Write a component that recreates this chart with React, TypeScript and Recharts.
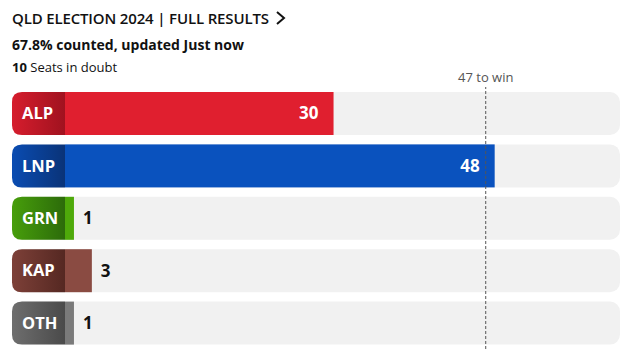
import React from 'react';
import { BarChart, Bar, XAxis, YAxis, ReferenceLine, LabelList } from 'recharts';

const parties = ['ALP', 'LNP', 'GRN', 'KAP', 'OTH'];
const seats = [30, 48, 1, 3, 1];
const winLine = 47;
const maxSeats = 62;

const COLORS: Record<string, { bar: string; tagFrom: string; tagTo: string }> = {
  ALP: { bar: '#e01f2f', tagFrom: '#d61d2d', tagTo: '#a0121f' },
  LNP: { bar: '#0a52be', tagFrom: '#0a4cb2', tagTo: '#0a3378' },
  GRN: { bar: '#4ea90a', tagFrom: '#479e0b', tagTo: '#2c6b0a' },
  KAP: { bar: '#8a4b42', tagFrom: '#7d4038', tagTo: '#552822' },
  OTH: { bar: '#7a7a7a', tagFrom: '#6e6e6e', tagTo: '#4a4a4a' },
};

const TAG_W = 53;
const R = 10;
const FONT = '"Open Sans", sans-serif';

const data = parties.map((p, i) => ({ party: p, seats: seats[i] }));

function PartyBar(props: any) {
  const { x, y, width, height, payload, index } = props;
  const c = COLORS[payload.party];
  const tx = x - TAG_W;
  const gid = `tag-grad-${index}`;
  const tagPath = `M${x},${y} L${tx + R},${y} Q${tx},${y} ${tx},${y + R} L${tx},${y + height - R} Q${tx},${y + height} ${tx + R},${y + height} L${x},${y + height} Z`;
  return (
    <g>
      <defs>
        <linearGradient id={gid} x1="0" y1="0" x2="1" y2="0">
          <stop offset="0%" stopColor={c.tagFrom} />
          <stop offset="100%" stopColor={c.tagTo} />
        </linearGradient>
      </defs>
      <rect x={x} y={y} width={Math.max(width, 0)} height={height} fill={c.bar} />
      <path d={tagPath} fill={`url(#${gid})`} />
      <text
        x={tx + 10}
        y={y + height / 2}
        dy="0.35em"
        fill="#fff"
        fontFamily={FONT}
        fontWeight={700}
        fontSize={16.5}
      >
        {payload.party}
      </text>
    </g>
  );
}

function BarBackground(props: any) {
  const { x, y, width, height } = props;
  return <rect x={x - TAG_W} y={y} width={width + TAG_W} height={height} rx={R} ry={R} fill="#f1f1f1" />;
}

function ValueLabel(props: any) {
  const { x, y, width, height, value } = props;
  const inside = width > 60;
  return (
    <text
      x={inside ? x + width - 15 : x + width + 9}
      y={y + height / 2}
      dy="0.35em"
      textAnchor={inside ? 'end' : 'start'}
      fill={inside ? '#fff' : '#111'}
      fontFamily={FONT}
      fontWeight={700}
      fontSize={17}
    >
      {value}
    </text>
  );
}

export default function App() {
  return (
    <div style={{ position: 'relative', width: 620, height: 345, fontFamily: FONT, color: '#111' }}>
      <div style={{ position: 'absolute', left: 4, top: 0, display: 'flex', alignItems: 'center', zIndex: 1 }}>
        <span style={{ fontSize: 15, fontWeight: 600, letterSpacing: -0.15 }}>QLD ELECTION 2024 | FULL RESULTS</span>
        <svg width={14} height={16} style={{ marginLeft: 5 }}>
          <polyline points="3,2 10,8 3,14" fill="none" stroke="#111" strokeWidth={2} />
        </svg>
      </div>
      <div style={{ position: 'absolute', left: 4, top: 27, fontSize: 14, fontWeight: 700, zIndex: 1 }}>
        67.8% counted, updated Just now
      </div>
      <div style={{ position: 'absolute', left: 4, top: 50, fontSize: 13, zIndex: 1 }}>
        <b>10</b> Seats in doubt
      </div>
      <div style={{ position: 'absolute', left: 0, top: 54 }}>
        <BarChart
          width={612}
          height={291}
          data={data}
          layout="vertical"
          margin={{ top: 25, right: 0, bottom: 4, left: 57 }}
          barSize={43}
        >
          <XAxis type="number" domain={[0, maxSeats]} hide />
          <YAxis type="category" dataKey="party" hide />
          <Bar
            dataKey="seats"
            isAnimationActive={false}
            shape={PartyBar}
            background={BarBackground}
          >
            <LabelList dataKey="seats" content={ValueLabel} />
          </Bar>
          <ReferenceLine
            x={winLine}
            stroke="#555"
            strokeDasharray="3 2"
            label={{ value: `${winLine} to win`, position: 'top', fill: '#555', fontSize: 13, fontFamily: FONT }}
          />
        </BarChart>
      </div>
    </div>
  );
}
